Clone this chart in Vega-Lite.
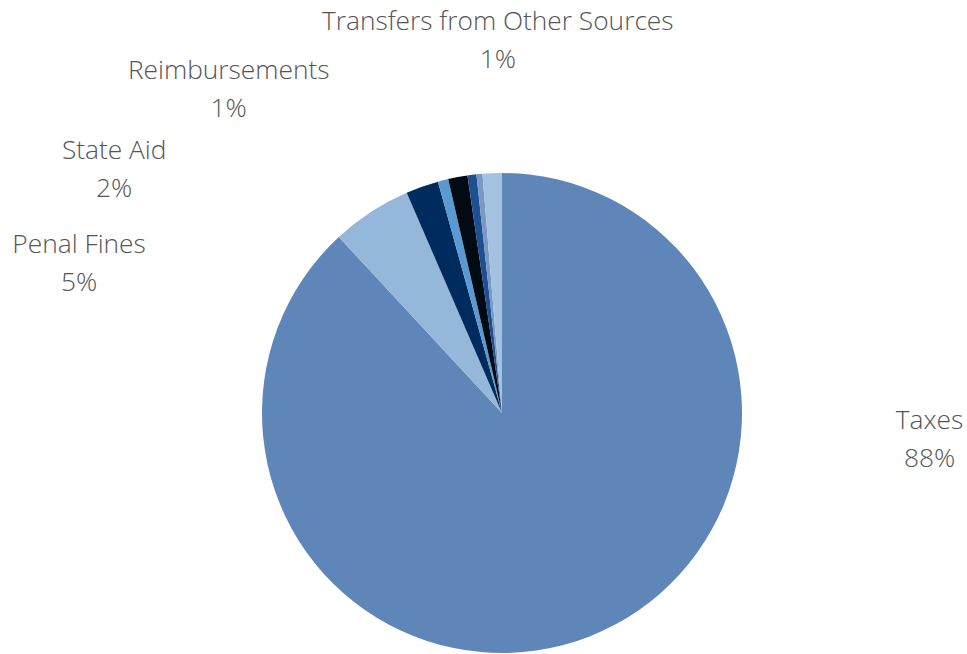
{
  "$schema": "https://vega.github.io/schema/vega-lite/v6.json",
  "width": 930,
  "height": 480,
  "autosize": "none",
  "padding": {"left": 37, "top": 173, "right": 0, "bottom": 1},
  "background": "white",
  "config": {
    "view": {"stroke": null},
    "text": {"font": "Open Sans", "fontSize": 26.3, "fontWeight": 300, "color": "#555555", "lineBreak": "\n", "lineHeight": 38, "align": "center", "baseline": "middle"}
  },
  "data": {
    "values": [
      {"rank": 1, "category": "Taxes", "value": 88.1},
      {"rank": 2, "category": "Penal Fines", "value": 5.4},
      {"rank": 3, "category": "State Aid", "value": 2.2},
      {"rank": 4, "category": "Interest", "value": 0.7},
      {"rank": 5, "category": "Reimbursements", "value": 1.3},
      {"rank": 6, "category": "Licenses and Permits", "value": 0.6},
      {"rank": 7, "category": "Other Revenue", "value": 0.4},
      {"rank": 8, "category": "Transfers from Other Sources", "value": 1.3}
    ]
  },
  "transform": [
    {"calculate": "datum.category + '\\n' + format(datum.value / 100, '.0%')", "as": "label"}
  ],
  "encoding": {
    "theta": {"field": "value", "type": "quantitative", "stack": true},
    "order": {"field": "rank", "type": "quantitative"}
  },
  "layer": [
    {
      "mark": {"type": "arc", "outerRadius": 240},
      "encoding": {
        "color": {
          "field": "category",
          "type": "nominal",
          "legend": null,
          "scale": {
            "domain": ["Taxes", "Penal Fines", "State Aid", "Interest", "Reimbursements", "Licenses and Permits", "Other Revenue", "Transfers from Other Sources"],
            "range": ["#5F86B8", "#95B7DA", "#002B5E", "#5A9AD2", "#020A14", "#1D4F91", "#7A98C4", "#A2C2E0"]
          }
        }
      }
    },
    {
      "mark": {"type": "text", "radius": 300, "dx": 318, "dy": -271},
      "encoding": {"text": {"condition": {"test": "datum.category === 'Taxes'", "field": "label"}, "value": ""}}
    },
    {
      "mark": {"type": "text", "radius": 300, "dx": -259, "dy": 83},
      "encoding": {"text": {"condition": {"test": "datum.category === 'Penal Fines'", "field": "label"}, "value": ""}}
    },
    {
      "mark": {"type": "text", "radius": 300, "dx": -288, "dy": 21},
      "encoding": {"text": {"condition": {"test": "datum.category === 'State Aid'", "field": "label"}, "value": ""}}
    },
    {
      "mark": {"type": "text", "radius": 300, "dx": -218, "dy": -47},
      "encoding": {"text": {"condition": {"test": "datum.category === 'Reimbursements'", "field": "label"}, "value": ""}}
    },
    {
      "mark": {"type": "text", "radius": 300, "dx": 8, "dy": -91},
      "encoding": {"text": {"condition": {"test": "datum.category === 'Transfers from Other Sources'", "field": "label"}, "value": ""}}
    }
  ]
}
